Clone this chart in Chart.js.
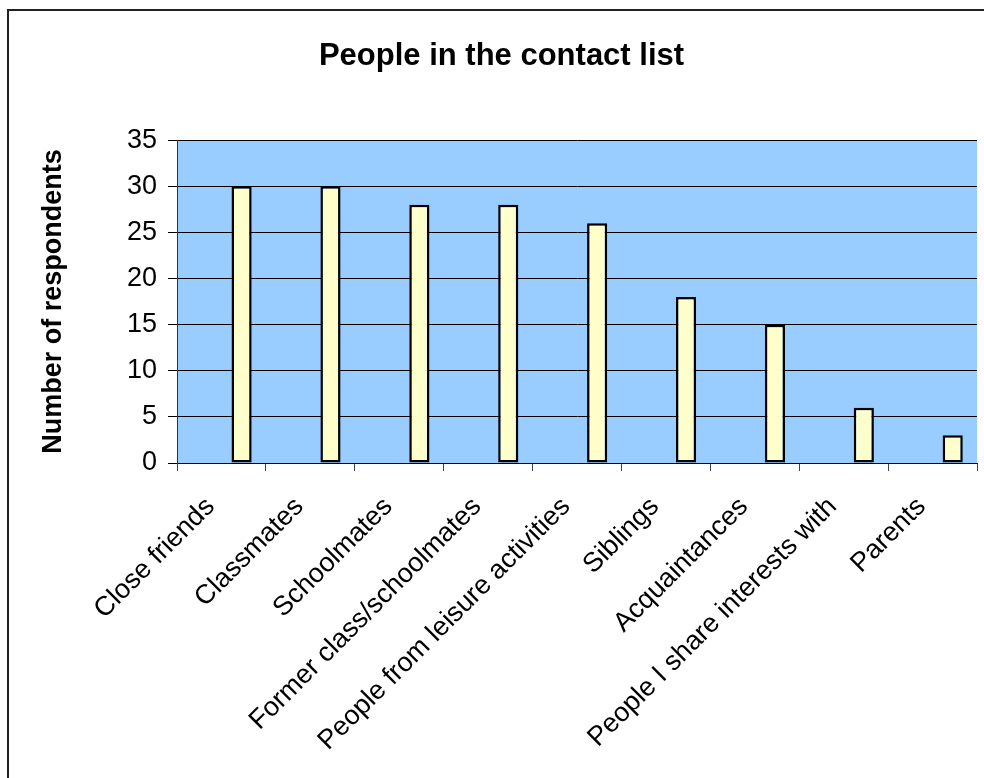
<!DOCTYPE html>
<html>
<head>
<meta charset="utf-8">
<script src="https://cdn.jsdelivr.net/npm/chart.js@4/dist/chart.umd.min.js"></script>
<style>
  html, body { margin: 0; padding: 0; background: #fff; }
  #wrap { width: 984px; height: 778px; }
</style>
</head>
<body>
<div id="wrap"><canvas id="contactChart" width="984" height="778"></canvas></div>
<script>
const categories = ['Close friends', 'Classmates', 'Schoolmates', 'Former class/schoolmates',
  'People from leisure activities', 'Siblings', 'Acquaintances',
  'People I share interests with', 'Parents'];
const respondents = [30, 30, 28, 28, 26, 18, 15, 6, 3];
const yTicks = [0, 5, 10, 15, 20, 25, 30, 35];

// plot background and the outer chart frame (top and left edges only)
const plotBackground = {
  id: 'plotBackground',
  beforeDraw(chart) {
    const {ctx, chartArea: a} = chart;
    ctx.save();
    ctx.fillStyle = '#fff';
    ctx.fillRect(0, 0, chart.width, chart.height);
    ctx.fillStyle = '#99ccff';
    ctx.fillRect(a.left, a.top, a.right - a.left, a.bottom - a.top);
    ctx.lineWidth = 2;
    ctx.strokeStyle = '#222';
    ctx.beginPath();
    ctx.moveTo(8, chart.height);
    ctx.lineTo(8, 10);
    ctx.lineTo(chart.width, 10);
    ctx.stroke();
    ctx.restore();
  }
};

function setupChart() {
  const ctx = document.getElementById('contactChart');
  return new Chart(ctx, {
    type: 'bar',
    data: {
      labels: categories,
      datasets: [
        { label: '', data: [] },
        { label: '', data: [] },
        {
          label: 'Number of respondents',
          data: respondents,
          backgroundColor: '#ffffcc',
          borderColor: '#000',
          borderWidth: 2.5,
          borderSkipped: false
        }
      ]
    },
    options: {
      responsive: false,
      animation: { duration: 0 },
      layout: { padding: { left: 26, right: 7, top: 0, bottom: 0 } },
      datasets: { bar: { categoryPercentage: 0.68, barPercentage: 1 } },
      plugins: {
        legend: { display: false },
        tooltip: { enabled: false },
        title: {
          display: true,
          text: 'People in the contact list',
          color: '#000',
          font: { family: 'Liberation Sans', size: 31, weight: 'bold' },
          padding: { top: 38, bottom: 65 }
        }
      },
      scales: {
        x: {
          offset: true,
          grid: { display: true, drawOnChartArea: false, offset: true, tickLength: 8, color: '#444' },
          border: { color: '#000', width: 1 },
          ticks: {
            color: '#000',
            font: { family: 'Liberation Sans', size: 27 },
            minRotation: 45, maxRotation: 45,
            autoSkip: false,
            padding: 20,
            labelOffset: -11
          },
          afterFit(scale) { scale.height = 315; }
        },
        y: {
          min: 0, max: 35,
          afterBuildTicks(scale) { scale.ticks = yTicks.map(v => ({ value: v })); },
          grid: { color: '#000', lineWidth: 1, tickLength: 9 },
          border: { color: '#333', width: 1 },
          ticks: {
            color: '#000',
            font: { family: 'Liberation Sans', size: 27 },
            padding: 11
          },
          title: {
            display: true,
            text: 'Number of respondents',
            color: '#000',
            font: { family: 'Liberation Sans', size: 27, weight: 'bold' },
            padding: { top: 11, bottom: 0 }
          },
          afterFit(scale) { scale.width = 151; }
        }
      }
    },
    plugins: [plotBackground]
  });
}

setupChart();
</script>
</body>
</html>
